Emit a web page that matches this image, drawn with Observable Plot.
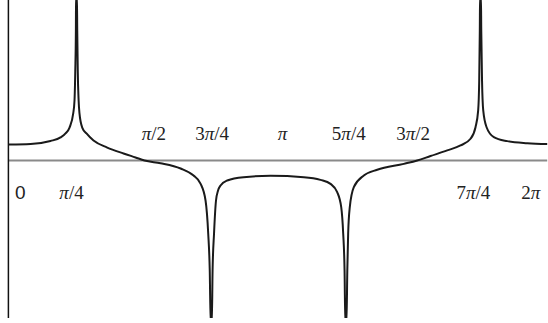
<!DOCTYPE html>
<html><head><meta charset="utf-8">
<script src="https://cdn.jsdelivr.net/npm/d3@7"></script>
<script src="https://cdn.jsdelivr.net/npm/@observablehq/plot@0.6"></script>
<style>html,body{margin:0;padding:0;background:#fff;} svg{display:block}</style>
</head><body><div id="chart"></div>
<script>
// Curve samples: x in radians, y in curve units
const curveX = [0, 0.249, 0.482, 0.599, 0.657, 0.704, 0.747, 0.762, 0.771, 0.778, 0.780,
  0.790, 0.794, 0.800, 0.810, 0.820, 0.852, 0.902, 0.984, 1.144, 1.334, 1.474, 1.579,
  1.766, 2.0, 2.151, 2.232, 2.291, 2.322, 2.340, 2.351,
  2.364, 2.373, 2.390, 2.413, 2.437, 2.466, 2.544, 2.734, 3.049, 3.438, 3.632, 3.749, 3.827, 3.874, 3.897, 3.913, 3.922,
  3.935, 3.945, 3.955, 3.974, 4.021, 4.138, 4.294, 4.604, 4.761, 4.916, 5.111, 5.266, 5.383, 5.441, 5.472, 5.484, 5.491, 5.494,
  5.504, 5.508, 5.517, 5.531, 5.570, 5.655, 5.811, 6.045, 6.283];
const curveY = [1.00, 1.03, 1.22, 1.44, 1.69, 2.06, 2.94, 3.75, 5.63, 8.13, 10.3,
  10.3, 8.13, 5.63, 3.75, 2.94, 2.06, 1.69, 1.25, 0.81, 0.44, 0.19, 0,
  -0.17, -0.5, -0.94, -1.44, -2.5, -4.56, -6.88, -10.2,
  -10.2, -6.88, -4.56, -2.5, -1.88, -1.56, -1.25, -1.04, -0.96, -1.04, -1.21, -1.46, -1.98, -2.92, -4.56, -6.88, -10.2,
  -10.2, -6.88, -4.56, -2.92, -1.67, -0.94, -0.58, -0.21, 0, 0.28, 0.63, 0.94, 1.36, 2.08, 3.13, 5.0, 8.13, 10.3,
  10.3, 8.13, 5.0, 3.13, 2.08, 1.46, 1.21, 1.08, 1.03];
const tickValues = [0, Math.PI/4, Math.PI/2, 3*Math.PI/4, Math.PI, 5*Math.PI/4, 3*Math.PI/2, 7*Math.PI/4, 2*Math.PI];
const tickLabels = ["0", "π/4", "π/2", "3π/4", "π", "5π/4", "3π/2", "7π/4", "2π"];

const table = curveX.map((x, i) => ({x, y: curveY[i]}));

// label placement (pixel nudges relative to tick position) – rendering style only
const labelNudge = [11, -5, 10, 1, 4, 3, 0, -7, -17];
const above = v => v > 1.4 && v < 4.8;

const labelMarks = tickLabels.map((lab, i) => Plot.text([lab], {
  x: () => tickValues[i],
  y: () => above(tickValues[i]) ? 1.69 : -2.0,
  text: d => d,
  dx: labelNudge[i],
  textAnchor: "middle",
  lineAnchor: "middle",
  fontSize: 19,
  fontFamily: lab === "0" ? "Liberation Sans, Arial, sans-serif" : "Liberation Serif, Times New Roman, serif",
  fill: "#222"
}));

const chart = Plot.plot({
  width: 548,
  height: 323,
  marginLeft: 8.7,
  marginRight: 0.8,
  marginTop: 0,
  marginBottom: 5,
  x: {domain: [0, 2*Math.PI], axis: null},
  y: {domain: [-9.875, 10], axis: null},
  style: {background: "#fff"},
  marks: [
    Plot.ruleY([0], {stroke: "#8a8a8a", strokeWidth: 2}),
    Plot.ruleX([0], {stroke: "#111", strokeWidth: 1.5, dx: -0.8}),
    Plot.line(table, {x: "x", y: "y", curve: "monotone-x", stroke: "#1a1a1a", strokeWidth: 2, clip: true}),
    ...labelMarks
  ]
});

// italicise π glyphs, keeping real text
d3.select(chart).selectAll("text").each(function() {
  const t = this.textContent;
  if (!t.includes("π")) return;
  const sel = d3.select(this);
  sel.text(null);
  t.split(/(π)/).forEach(part => {
    if (!part) return;
    const ts = sel.append("tspan").text(part);
    if (part === "π") ts.attr("font-style", "italic");
  });
});

document.getElementById("chart").appendChild(chart);
</script>
</body></html>
